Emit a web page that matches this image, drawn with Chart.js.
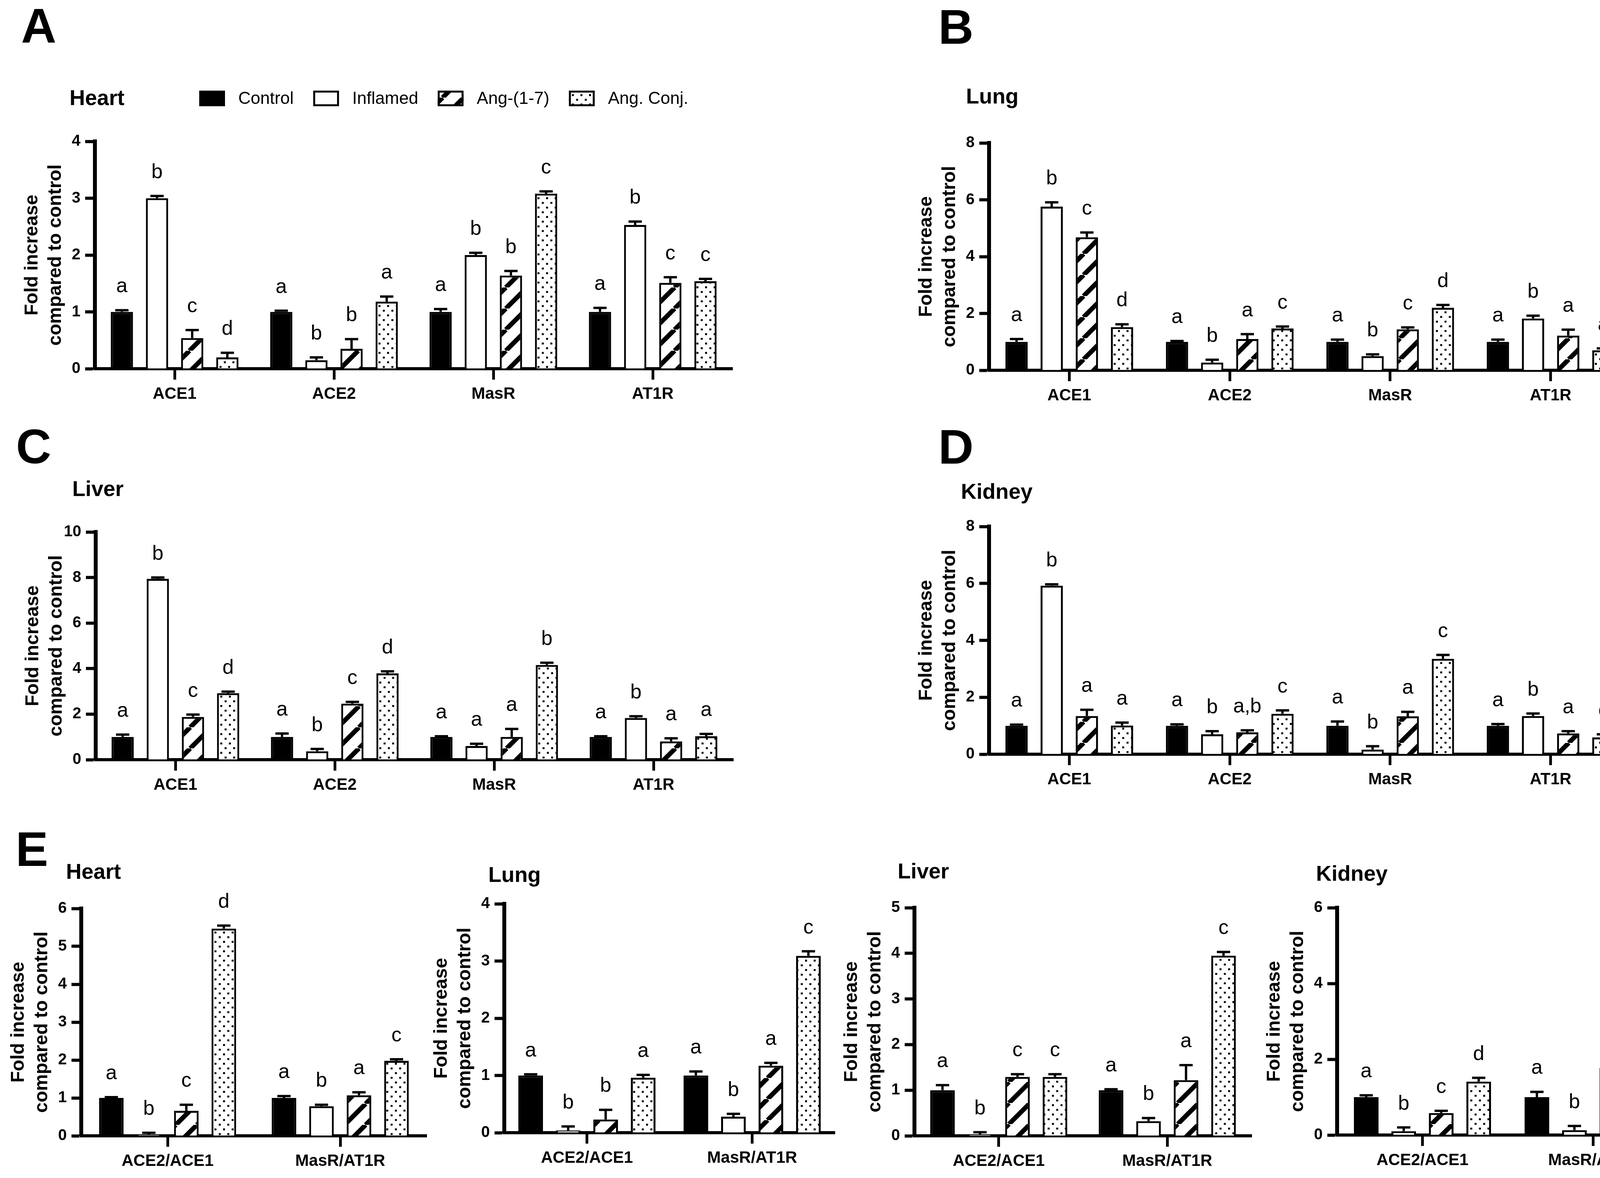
<!DOCTYPE html>
<html>
<head>
<meta charset="utf-8">
<script src="https://cdn.jsdelivr.net/npm/chart.js@4.4.1/dist/chart.umd.min.js"></script>
<style>
  html, body { margin: 0; padding: 0; background: #fff; }
  body { width: 4325px; height: 3016px; position: relative; overflow: hidden;
         font-family: "Liberation Sans", Arial, sans-serif; color: #000; }
  canvas { position: absolute; }
  .tag { position: absolute; font-weight: bold; font-size: 125px; line-height: 1; }
  .organ { position: absolute; font-weight: bold; font-size: 55px; line-height: 1; }
</style>
</head>
<body>
<div class="tag" style="left:54px;top:3px">A</div>
<div class="tag" style="left:2402px;top:6px">B</div>
<div class="tag" style="left:41px;top:1080px">C</div>
<div class="tag" style="left:2402px;top:1081px">D</div>
<div class="tag" style="left:40px;top:2111px">E</div>

<div class="organ" style="left:178px;top:223px">Heart</div>
<div class="organ" style="left:2473px;top:219px">Lung</div>
<div class="organ" style="left:185px;top:1224px">Liver</div>
<div class="organ" style="left:2460px;top:1231px">Kidney</div>
<div class="organ" style="left:169px;top:2204px">Heart</div>
<div class="organ" style="left:1250px;top:2212px">Lung</div>
<div class="organ" style="left:2298px;top:2203px">Liver</div>
<div class="organ" style="left:3369px;top:2209px">Kidney</div>

<canvas id="chartA"></canvas>
<canvas id="chartB"></canvas>
<canvas id="chartC"></canvas>
<canvas id="chartD"></canvas>
<canvas id="chartEHeart"></canvas>
<canvas id="chartELung"></canvas>
<canvas id="chartELiver"></canvas>
<canvas id="chartEKidney"></canvas>

<script>
"use strict"

// ---- data (rows: Control, Inflamed, Ang-(1-7), Ang. Conj.) ----
const groups = ["Control", "Inflamed", "Ang-(1-7)", "Ang. Conj."];
const genes = ["ACE1", "ACE2", "MasR", "AT1R"];
const ratios = ["ACE2/ACE1", "MasR/AT1R"];

const heartMean = [[1.00, 1.00, 1.00, 1.00], [3.00, 0.15, 2.00, 2.53], [0.54, 0.35, 1.64, 1.51], [0.20, 1.18, 3.08, 1.54]];
const heartErr = [[0.03, 0.02, 0.05, 0.07], [0.04, 0.05, 0.04, 0.06], [0.14, 0.17, 0.08, 0.10], [0.08, 0.09, 0.04, 0.04]];
const heartLetters = [["a", "a", "a", "a"], ["b", "b", "b", "b"], ["c", "b", "b", "c"], ["d", "a", "c", "c"]];
const heartTicks = [0, 1, 2, 3, 4];

const lungMean = [[1.00, 1.00, 1.00, 1.00], [5.76, 0.27, 0.50, 1.82], [4.68, 1.10, 1.44, 1.22], [1.52, 1.47, 2.20, 0.70]];
const lungErr = [[0.10, 0.03, 0.08, 0.08], [0.15, 0.10, 0.06, 0.10], [0.17, 0.17, 0.07, 0.21], [0.10, 0.07, 0.10, 0.07]];
const lungLetters = [["a", "a", "a", "a"], ["b", "b", "b", "b"], ["c", "a", "c", "a"], ["d", "c", "d", "a"]];
const lungTicks = [0, 2, 4, 6, 8];

const liverMean = [[1.00, 1.00, 1.00, 1.00], [7.94, 0.37, 0.60, 1.83], [1.88, 2.46, 1.00, 0.80], [2.92, 3.79, 4.16, 1.03]];
const liverErr = [[0.10, 0.15, 0.03, 0.03], [0.06, 0.10, 0.10, 0.08], [0.10, 0.08, 0.35, 0.14], [0.07, 0.09, 0.10, 0.10]];
const liverLetters = [["a", "a", "a", "a"], ["b", "b", "a", "b"], ["c", "c", "a", "a"], ["d", "d", "b", "a"]];
const liverTicks = [0, 2, 4, 6, 8, 10];

const kidneyMean = [[1.00, 1.00, 1.00, 1.00], [5.92, 0.70, 0.16, 1.34], [1.34, 0.77, 1.33, 0.73], [1.01, 1.42, 3.35, 0.59]];
const kidneyErr = [[0.04, 0.05, 0.15, 0.06], [0.05, 0.11, 0.12, 0.09], [0.22, 0.07, 0.16, 0.08], [0.10, 0.12, 0.14, 0.11]];
const kidneyLetters = [["a", "a", "a", "a"], ["b", "b", "b", "b"], ["a", "a,b", "a", "a"], ["a", "c", "c", "c"]];
const kidneyTicks = [0, 2, 4, 6, 8];

const heartRatioMean = [[1.00, 1.00], [0.03, 0.78], [0.66, 1.07], [5.47, 1.98]];
const heartRatioErr = [[0.02, 0.05], [0.05, 0.04], [0.16, 0.08], [0.08, 0.04]];
const heartRatioLetters = [["a", "a"], ["b", "b"], ["c", "a"], ["d", "c"]];
const heartRatioTicks = [0, 1, 2, 3, 4, 5, 6];

const lungRatioMean = [[1.00, 1.00], [0.04, 0.28], [0.23, 1.17], [0.96, 3.09]];
const lungRatioErr = [[0.02, 0.07], [0.07, 0.05], [0.17, 0.05], [0.05, 0.08]];
const lungRatioLetters = [["a", "a"], ["b", "b"], ["b", "a"], ["a", "c"]];
const lungRatioTicks = [0, 1, 2, 3, 4];

const liverRatioMean = [[1.00, 1.00], [0.03, 0.32], [1.29, 1.22], [1.29, 3.95]];
const liverRatioErr = [[0.11, 0.02], [0.05, 0.07], [0.06, 0.33], [0.06, 0.08]];
const liverRatioLetters = [["a", "a"], ["b", "b"], ["c", "a"], ["c", "c"]];
const liverRatioTicks = [0, 1, 2, 3, 4, 5];

const kidneyRatioMean = [[1.00, 1.00], [0.10, 0.13], [0.58, 1.77], [1.41, 5.50]];
const kidneyRatioErr = [[0.05, 0.14], [0.10, 0.11], [0.06, 0.16], [0.10, 0.12]];
const kidneyRatioLetters = [["a", "a"], ["b", "b"], ["c", "c"], ["d", "d"]];
const kidneyRatioTicks = [0, 2, 4, 6];

// ---- styling ----
const FONT = "'Liberation Sans', Arial, sans-serif";
Chart.defaults.font.family = FONT;
Chart.defaults.color = "#000";

const AXIS_W = 190;
const XAXIS_H = 100;
const PAD_RIGHT = 30;

function hatchPattern() {
    const s = 54;
    const c = document.createElement("canvas");
    c.width = s; c.height = s;
    const g = c.getContext("2d");
    g.fillStyle = "#fff";
    g.fillRect(0, 0, s, s);
    g.strokeStyle = "#000";
    g.lineWidth = 12;
    g.beginPath();
    for (let k = -1; k <= 1; k++) {
        g.moveTo(k * s, s);
        g.lineTo(k * s + s, 0);
    }
    g.stroke();
    return g.createPattern(c, "repeat");
}

function dotPattern() {
    const c = document.createElement("canvas");
    c.width = 22; c.height = 24;
    const g = c.getContext("2d");
    g.fillStyle = "#fff";
    g.fillRect(0, 0, 22, 24);
    g.fillStyle = "#000";
    g.fillRect(3, 3, 5, 5);
    g.fillRect(14, 15, 5, 5);
    return g.createPattern(c, "repeat");
}

const fills = ["#000", "#fff", hatchPattern(), dotPattern()];

// error bars + letters on top of each bar
const errorBarPlugin = {
    id: "errorBars",
    afterDatasetsDraw(chart) {
        const ctx = chart.ctx;
        const y = chart.scales.y;
        ctx.save();
        chart.data.datasets.forEach((ds, i) => {
            const meta = chart.getDatasetMeta(i);
            meta.data.forEach((bar, j) => {
                const top = y.getPixelForValue(ds.data[j] + ds.errors[j]);
                ctx.strokeStyle = "#000";
                ctx.lineWidth = 6;
                ctx.beginPath();
                ctx.moveTo(bar.x, bar.y);
                ctx.lineTo(bar.x, top);
                ctx.moveTo(bar.x - 17, top);
                ctx.lineTo(bar.x + 17, top);
                ctx.stroke();
                ctx.fillStyle = "#000";
                ctx.font = "52px " + FONT;
                ctx.textAlign = "center";
                ctx.textBaseline = "alphabetic";
                ctx.fillText(ds.letters[j], bar.x, top - 46);
            });
        });
        ctx.restore();
    }
};

const groupLegendPlugin = {
    id: "groupLegend",
    afterDraw(chart, args, opts) {
        const ctx = chart.ctx;
        ctx.save();
        ctx.font = "44px " + FONT;
        ctx.textBaseline = "middle";
        ctx.textAlign = "left";
        let x = opts.x;
        chart.data.datasets.forEach(ds => {
            ctx.fillStyle = ds.backgroundColor;
            ctx.fillRect(x, opts.y - 20, 66, 40);
            ctx.strokeStyle = "#000";
            ctx.lineWidth = 5;
            ctx.strokeRect(x + 2.5, opts.y - 17.5, 61, 35);
            ctx.fillStyle = "#000";
            ctx.fillText(ds.label, x + 100, opts.y + 2);
            x += 100 + ctx.measureText(ds.label).width + 50;
        });
        ctx.restore();
    }
};

function makePanel(id, rect, labels, means, errs, letters, yTicks, slot, barW, padTop, legend) {
    const canvas = document.getElementById(id);
    const left = rect.l - AXIS_W;
    const top = rect.t - padTop;
    canvas.width = rect.r + PAD_RIGHT - left;
    canvas.height = rect.b + XAXIS_H - top;
    canvas.style.left = left + "px";
    canvas.style.top = top + "px";

    const catWidth = (rect.r - rect.l) / labels.length;
    const datasets = groups.map((g, i) => ({
        label: g,
        data: means[i],
        errors: errs[i],
        letters: letters[i],
        backgroundColor: fills[i],
        borderColor: "#000",
        borderWidth: 5,
        categoryPercentage: (slot * groups.length) / catWidth,
        barPercentage: barW / slot,
    }));

    const plugins = [errorBarPlugin];
    if (legend) plugins.push(groupLegendPlugin);

    return new Chart(canvas, {
        type: "bar",
        data: { labels: labels, datasets: datasets },
        plugins: plugins,
        options: {
            responsive: false,
            animation: false,
            devicePixelRatio: 1,
            layout: { padding: { top: padTop, right: PAD_RIGHT, left: 0, bottom: 0 } },
            plugins: {
                legend: { display: false },
                tooltip: { enabled: false },
                title: { display: false },
                groupLegend: legend ? { x: legend.x - left, y: legend.y - top } : {},
            },
            scales: {
                x: {
                    offset: true,
                    grid: { display: true, drawOnChartArea: false, offset: false, drawTicks: true,
                            tickLength: 28, tickWidth: 7, tickColor: "#000" },
                    border: { display: true, width: 8, color: "#000" },
                    ticks: { color: "#000", font: { size: 42, weight: "bold" }, padding: 12,
                             maxRotation: 0, autoSkip: false },
                    afterFit: s => { s.height = XAXIS_H; },
                },
                y: {
                    min: yTicks[0],
                    max: yTicks[yTicks.length - 1],
                    ticks: { stepSize: yTicks[1] - yTicks[0], color: "#000",
                             font: { size: 40, weight: "bold" }, padding: 12 },
                    grid: { display: true, drawOnChartArea: false, drawTicks: true,
                            tickLength: 25, tickWidth: 8, tickColor: "#000" },
                    border: { display: true, width: 10, color: "#000" },
                    title: { display: true, text: ["Fold increase", "compared to control"], color: "#000",
                             font: { size: 48, weight: "bold", lineHeight: 1.25 }, padding: 0 },
                    afterFit: s => { s.width = AXIS_W; },
                },
            },
        },
    });
}

makePanel("chartA", { l: 243, t: 362, r: 1875, b: 944 }, genes, heartMean, heartErr, heartLetters, heartTicks, 90, 57, 220, { x: 510, y: 252 });
makePanel("chartB", { l: 2532, t: 366, r: 4175, b: 948 }, genes, lungMean, lungErr, lungLetters, lungTicks, 90, 57, 40);
makePanel("chartC", { l: 245, t: 1362, r: 1877, b: 1945 }, genes, liverMean, liverErr, liverLetters, liverTicks, 90, 57, 40);
makePanel("chartD", { l: 2532, t: 1348, r: 4175, b: 1931 }, genes, kidneyMean, kidneyErr, kidneyLetters, kidneyTicks, 90, 57, 40);

makePanel("chartEHeart", { l: 208, t: 2326, r: 1092, b: 2908 }, ratios, heartRatioMean, heartRatioErr, heartRatioLetters, heartRatioTicks, 96, 63, 40);
makePanel("chartELung", { l: 1291, t: 2314, r: 2137, b: 2900 }, ratios, lungRatioMean, lungRatioErr, lungRatioLetters, lungRatioTicks, 96, 63, 40);
makePanel("chartELiver", { l: 2341, t: 2324, r: 3204, b: 2908 }, ratios, liverRatioMean, liverRatioErr, liverRatioLetters, liverRatioTicks, 96, 63, 40);
makePanel("chartEKidney", { l: 3423, t: 2324, r: 4297, b: 2906 }, ratios, kidneyRatioMean, kidneyRatioErr, kidneyRatioLetters, kidneyRatioTicks, 96, 63, 40);
</script>
</body>
</html>
